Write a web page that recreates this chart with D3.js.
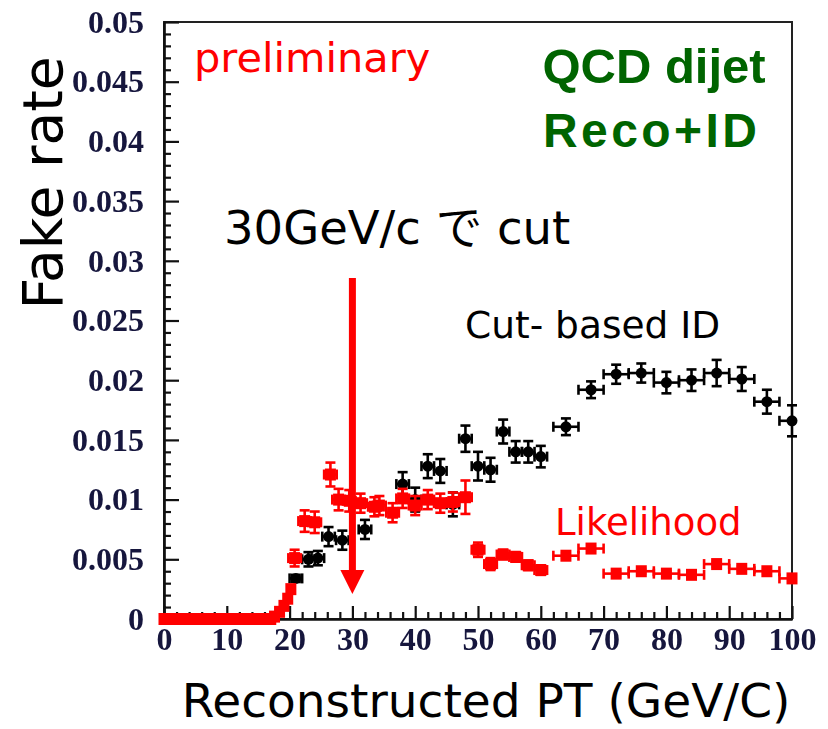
<!DOCTYPE html>
<html>
<head>
<meta charset="utf-8">
<script src="https://cdn.jsdelivr.net/npm/d3@7"></script>
<style>
  body { margin: 0; background: #fff; }
  svg { display: block; }
</style>
</head>
<body>
<svg id="chart" width="828" height="729"></svg>
<script>
// Axis ticks
const xTicks = [0, 10, 20, 30, 40, 50, 60, 70, 80, 90, 100];
const xTickLabels = ["0", "10", "20", "30", "40", "50", "60", "70", "80", "90", "100"];
const yTicks = [0, 0.005, 0.01, 0.015, 0.02, 0.025, 0.03, 0.035, 0.04, 0.045, 0.05];
const yTickLabels = ["0", "0.005", "0.01", "0.015", "0.02", "0.025", "0.03", "0.035", "0.04", "0.045", "0.05"];

// Cut-based ID fake rate vs reconstructed PT
const cutPt   = [21, 23, 24.5, 26.2, 28.4, 32, 38, 40, 42, 44, 46, 48, 50, 52, 54, 56, 58, 60, 64, 68, 72, 76, 80, 84, 88, 92, 96, 100];
const cutRate = [0.0034, 0.0050, 0.0051, 0.0069, 0.0066, 0.0075, 0.0113, 0.0100, 0.0128, 0.0124, 0.0096, 0.0151, 0.0128, 0.0125, 0.0157, 0.0140, 0.0140, 0.0136, 0.0161, 0.0192, 0.0205, 0.0206, 0.0198, 0.0200, 0.0206, 0.0201, 0.0182, 0.0166];
const cutErr  = [0.0003, 0.0006, 0.0006, 0.0008, 0.0008, 0.0008, 0.0010, 0.0010, 0.0010, 0.0010, 0.0010, 0.0011, 0.0012, 0.0010, 0.0010, 0.0009, 0.0009, 0.0009, 0.0007, 0.0007, 0.0008, 0.0008, 0.0009, 0.0009, 0.0011, 0.0010, 0.0010, 0.0013];
const cutBinHalf = [1, 1, 1, 1, 1, 1, 1, 1, 1, 1, 1, 1, 1, 1, 1, 1, 1, 1, 2, 2, 2, 2, 2, 2, 2, 2, 2, 2];

// Likelihood fake rate vs reconstructed PT
const likePt   = [0, 1, 2, 3, 4, 5, 6, 7, 8, 9, 10, 11, 12, 13, 14, 15, 16, 17, 17.6, 18.4, 19.1, 19.7, 20.2,
                  20.8, 22.4, 24, 26.5, 27.8, 29.5, 31.3, 33.5, 34.3, 36.4, 38, 40, 42, 44, 46, 48,
                  50, 52, 54, 56, 58, 60, 64, 68, 72, 76, 80, 84, 88, 92, 96, 100];
const likeRate = [0, 0, 0, 0, 0, 0, 0, 0, 0, 0, 0, 0, 0, 0, 0, 0, 0, 0, 0.0002, 0.0006, 0.0011, 0.0017, 0.0025,
                  0.0051, 0.0082, 0.0081, 0.0121, 0.0100, 0.0099, 0.0097, 0.0094, 0.0095, 0.0089, 0.0101, 0.0095, 0.0100, 0.0097, 0.0098, 0.0102,
                  0.0058, 0.0046, 0.0054, 0.0052, 0.0045, 0.0041, 0.0053, 0.0059, 0.0038, 0.0040, 0.0038, 0.0037, 0.0046, 0.0042, 0.0040, 0.0034];
const likeErr  = [0, 0, 0, 0, 0, 0, 0, 0, 0, 0, 0, 0, 0, 0, 0, 0, 0, 0, 0, 0, 0, 0, 0,
                  0.0007, 0.0009, 0.0009, 0.0010, 0.0009, 0.0009, 0.0008, 0.0008, 0.0008, 0.0008, 0.0008, 0.0008, 0.0008, 0.0008, 0.0008, 0.0014,
                  0.0006, 0.0005, 0.0004, 0.0004, 0.0004, 0.0004, 0.0002, 0.0002, 0.0002, 0.0002, 0.0002, 0.0002, 0.0002, 0.0002, 0.0002, 0.0002];
const likeBinHalf = likePt.map(p => p < 20.5 ? 0.5 : (p < 62 ? 1 : 2));

const cutSeries = cutPt.map((p, i) => ({ pt: p, v: cutRate[i], e: cutErr[i], h: cutBinHalf[i] }));
const likeSeries = likePt.map((p, i) => ({ pt: p, v: likeRate[i], e: likeErr[i], h: likeBinHalf[i] }));

const svg = d3.select("#chart");
const x = d3.scaleLinear().domain([0, 100]).range([164, 792]);
const y = d3.scaleLinear().domain([0, 0.05]).range([619, 22]);

const tickFont = "'Liberation Serif', 'Times New Roman', serif";
const sansFont = "'DejaVu Sans', Verdana, sans-serif";

// soft look of the tick numbers
const defs = svg.append("defs");
defs.append("filter").attr("id", "soft").append("feGaussianBlur").attr("stdDeviation", 0.45);

// frame
svg.append("rect")
  .attr("x", x(0)).attr("y", y(0.05))
  .attr("width", x(100) - x(0)).attr("height", y(0) - y(0.05))
  .attr("fill", "none").attr("stroke", "#222").attr("stroke-width", 2);

// left axis: major + minor ticks
const yMinor = d3.range(0, 51).map(i => i * 0.001).filter(v => !yTicks.some(t => Math.abs(t - v) < 1e-9));
const gyMinor = svg.append("g").attr("transform", `translate(${x(0)},0)`)
  .call(d3.axisLeft(y).tickValues(yMinor).tickSize(-7).tickSizeOuter(0).tickFormat(""));
const gy = svg.append("g").attr("transform", `translate(${x(0)},0)`)
  .call(d3.axisLeft(y).tickValues(yTicks).tickSize(-15).tickSizeOuter(0).tickPadding(20)
    .tickFormat((d, i) => yTickLabels[i]));

// bottom axis: major + minor ticks
const xMinor = d3.range(0, 101, 2).filter(v => v % 10 !== 0);
const gxMinor = svg.append("g").attr("transform", `translate(0,${y(0)})`)
  .call(d3.axisBottom(x).tickValues(xMinor).tickSize(-7).tickSizeOuter(0).tickFormat(""));
const gx = svg.append("g").attr("transform", `translate(0,${y(0)})`)
  .call(d3.axisBottom(x).tickValues(xTicks).tickSize(-13).tickSizeOuter(0).tickPadding(8)
    .tickFormat((d, i) => xTickLabels[i]));

[gy, gyMinor, gx, gxMinor].forEach(g => {
  g.selectAll("path.domain").attr("stroke", "#111").attr("stroke-width", 2.2);
  g.selectAll(".tick line").attr("stroke", "#111").attr("stroke-width", 2.2);
});
[gy, gx].forEach(g => {
  g.selectAll(".tick text")
    .attr("fill", "#14143c")
    .attr("font-family", tickFont)
    .attr("font-weight", "bold")
    .attr("font-size", 32)
    .attr("filter", "url(#soft)");
});

// draws one series as error bars with end caps plus markers
function drawSeries(data, color, markerShape) {
  const g = svg.append("g");
  const sw = 2.6, cap = 5;
  data.forEach(d => {
    const cx = x(d.pt), cy = y(d.v);
    const x0 = x(d.pt - d.h), x1 = x(Math.min(d.pt + d.h, 100.6));
    g.append("line").attr("x1", x0).attr("x2", x1).attr("y1", cy).attr("y2", cy)
      .attr("stroke", color).attr("stroke-width", sw);
    if (d.v > 0) {
      g.append("line").attr("x1", x0).attr("x2", x0).attr("y1", cy - cap).attr("y2", cy + cap)
        .attr("stroke", color).attr("stroke-width", sw);
      if (d.pt + d.h <= 100) {
        g.append("line").attr("x1", x1).attr("x2", x1).attr("y1", cy - cap).attr("y2", cy + cap)
          .attr("stroke", color).attr("stroke-width", sw);
      }
    }
    if (d.e > 0) {
      const yt = y(d.v + d.e), yb = y(d.v - d.e);
      g.append("line").attr("x1", cx).attr("x2", cx).attr("y1", yt).attr("y2", yb)
        .attr("stroke", color).attr("stroke-width", sw);
      g.append("line").attr("x1", cx - cap).attr("x2", cx + cap).attr("y1", yt).attr("y2", yt)
        .attr("stroke", color).attr("stroke-width", sw);
      g.append("line").attr("x1", cx - cap).attr("x2", cx + cap).attr("y1", yb).attr("y2", yb)
        .attr("stroke", color).attr("stroke-width", sw);
    }
  });
  if (markerShape === "circle") {
    g.selectAll("circle").data(data).join("circle")
      .attr("cx", d => x(d.pt)).attr("cy", d => y(d.v)).attr("r", 5.5).attr("fill", color);
  } else {
    g.selectAll("rect").data(data).join("rect")
      .attr("x", d => x(d.pt) - 5.5).attr("y", d => y(d.v) - 6)
      .attr("width", 11).attr("height", 12).attr("fill", color);
  }
}

drawSeries(cutSeries, "#000", "circle");
drawSeries(likeSeries, "#ff0000", "square");

// 30 GeV/c cut arrow
const arrowX = x(30);
svg.append("line").attr("x1", arrowX).attr("x2", arrowX).attr("y1", 278).attr("y2", 572)
  .attr("stroke", "#ff0000").attr("stroke-width", 7);
svg.append("path")
  .attr("d", `M${arrowX - 12},570 L${arrowX + 12},570 L${arrowX},594 Z`)
  .attr("fill", "#ff0000");

// annotations
svg.append("text").attr("x", 194).attr("y", 72)
  .attr("font-family", sansFont).attr("font-size", 41.5).attr("fill", "#ff0000")
  .text("preliminary");

svg.append("text").attr("x", 654).attr("y", 83).attr("text-anchor", "middle")
  .attr("font-family", "'Liberation Sans', Arial, sans-serif").attr("font-weight", "bold")
  .attr("font-size", 49).attr("fill", "#006400").text("QCD dijet");
svg.append("text").attr("x", 650).attr("y", 147).attr("text-anchor", "middle")
  .attr("font-family", "'Liberation Sans', Arial, sans-serif").attr("font-weight", "bold")
  .attr("font-size", 48).attr("fill", "#006400")
  .attr("textLength", 214).attr("lengthAdjust", "spacing").text("Reco+ID");

svg.append("text").attr("x", 224).attr("y", 244)
  .attr("font-family", "'DejaVu Sans', 'Noto Sans CJK JP', sans-serif")
  .attr("font-size", 46.5).attr("fill", "#000").text("30GeV/c で cut");

svg.append("text").attr("x", 465).attr("y", 338)
  .attr("font-family", sansFont).attr("font-size", 37.5).attr("fill", "#000")
  .text("Cut- based ID");

svg.append("text").attr("x", 555).attr("y", 535)
  .attr("font-family", sansFont).attr("font-size", 37).attr("fill", "#ff0000")
  .text("Likelihood");

// axis titles
svg.append("text")
  .attr("transform", "translate(62,183) rotate(-90)")
  .attr("text-anchor", "middle")
  .attr("font-family", sansFont).attr("font-size", 55).attr("fill", "#000")
  .text("Fake rate");

svg.append("text").attr("x", 486).attr("y", 717).attr("text-anchor", "middle")
  .attr("font-family", sansFont).attr("font-size", 47).attr("fill", "#000")
  .text("Reconstructed PT (GeV/C)");
</script>
</body>
</html>
